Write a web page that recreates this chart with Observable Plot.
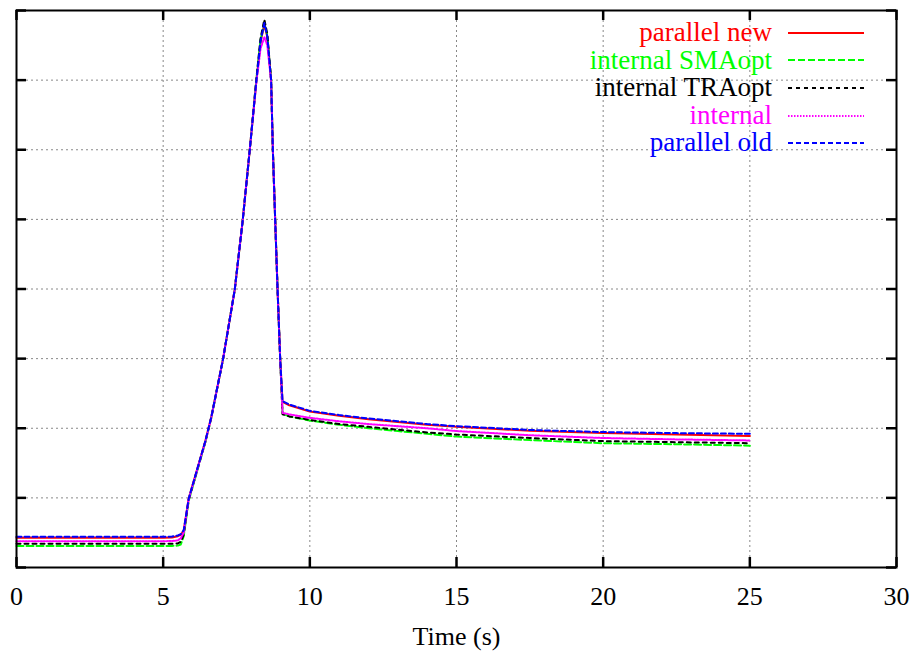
<!DOCTYPE html>
<html><head><meta charset="utf-8">
<script src="https://cdn.jsdelivr.net/npm/d3@7"></script>
<script src="https://cdn.jsdelivr.net/npm/@observablehq/plot@0.6"></script>
<style>
body{margin:0;background:#fff;}
#wrap{position:relative;width:915px;height:653px;}
#legend{position:absolute;left:560px;top:19px;font-family:"Liberation Serif","Times New Roman",serif;font-size:27px;}
.row{display:flex;align-items:center;height:27.6px;}
.lab{width:212px;text-align:right;line-height:27.6px;}
.row svg{margin-left:16px;}
</style></head><body><div id="wrap"></div>
<script>
// time (s)
const time = [0, 1, 2, 3, 4, 5, 5.3, 5.5, 5.6, 5.7, 5.87, 6.44, 6.64, 7.04, 7.44, 7.71, 7.95, 8.18, 8.32, 8.45, 8.55, 8.68, 8.74, 8.82, 8.90, 8.99, 9.07, 9.3, 10, 11, 12, 13, 14, 15, 17.5, 20, 22.5, 25];
const parallelNew = [0.427, 0.427, 0.427, 0.427, 0.427, 0.427, 0.432, 0.45, 0.47, 0.53, 0.99, 1.82, 2.16, 2.99, 3.99, 4.98, 5.99, 7.0, 7.55, 7.8, 7.62, 7.0, 5.99, 4.98, 3.99, 2.99, 2.38, 2.33, 2.24, 2.18, 2.13, 2.09, 2.05, 2.02, 1.965, 1.93, 1.91, 1.89];
const internalSMAopt = [0.31, 0.31, 0.31, 0.31, 0.31, 0.31, 0.31, 0.315, 0.33, 0.45, 0.96, 1.8, 2.15, 2.99, 3.99, 4.98, 5.99, 7.02, 7.58, 7.83, 7.64, 7.0, 5.99, 4.98, 3.99, 2.99, 2.21, 2.17, 2.11, 2.05, 2.0, 1.96, 1.92, 1.88, 1.83, 1.785, 1.77, 1.75];
const internalTRAopt = [0.34, 0.34, 0.34, 0.34, 0.34, 0.34, 0.34, 0.345, 0.37, 0.47, 0.97, 1.81, 2.15, 2.99, 3.99, 4.98, 5.99, 7.03, 7.6, 7.87, 7.66, 7.0, 5.99, 4.98, 3.99, 2.99, 2.2, 2.17, 2.12, 2.06, 2.02, 1.98, 1.94, 1.91, 1.86, 1.815, 1.8, 1.785];
const internal = [0.378, 0.378, 0.378, 0.378, 0.378, 0.378, 0.38, 0.39, 0.42, 0.5, 0.98, 1.81, 2.15, 2.99, 3.99, 4.98, 5.99, 6.98, 7.45, 7.62, 7.5, 6.98, 5.99, 4.98, 3.99, 2.99, 2.22, 2.2, 2.15, 2.1, 2.06, 2.03, 2.0, 1.96, 1.9, 1.86, 1.84, 1.825];
const parallelOld = [0.44, 0.44, 0.44, 0.44, 0.44, 0.44, 0.444, 0.46, 0.48, 0.535, 0.99, 1.82, 2.16, 2.99, 3.99, 4.98, 5.99, 7.0, 7.56, 7.82, 7.63, 7.0, 5.99, 4.98, 3.99, 2.99, 2.39, 2.34, 2.25, 2.19, 2.14, 2.1, 2.06, 2.03, 1.975, 1.945, 1.93, 1.92];

const seriesNames = ["parallel new", "internal SMAopt", "internal TRAopt", "internal", "parallel old"];
const seriesValues = [parallelNew, internalSMAopt, internalTRAopt, internal, parallelOld];
const seriesColors = ["#ff0000", "#00ff00", "#000000", "#ff00ff", "#0000ff"];
const seriesDash = [null, "7,3", "4,4", "1.5,1.5", "5,3"];
const xTicks = [0, 5, 10, 15, 20, 25, 30];
const yTicks = [0, 1, 2, 3, 4, 5, 6, 7, 8];
const xDomain = [0, 30], yDomain = [0, 8];
const xLabel = "Time (s)";

const font = '"Liberation Serif", "Times New Roman", serif';
const W = 915, H = 653, mL = 16, mR = 19, mT = 10, mB = 86, tickPx = 10;
const innerW = W - mL - mR, innerH = H - mT - mB;
// tick length converted into data units of each scale
const tx = tickPx * (xDomain[1] - xDomain[0]) / innerW;
const ty = tickPx * (yDomain[1] - yDomain[0]) / innerH;

const lines = seriesNames.map((name, s) =>
  Plot.line(time.map((t, i) => ({t, v: seriesValues[s][i]})), {
    x: "t", y: "v", stroke: seriesColors[s], strokeWidth: 2,
    strokeDasharray: seriesDash[s] ?? undefined
  })
);

const tickStyle = {stroke: "#000", strokeWidth: 2.5, strokeOpacity: 1};
const chart = Plot.plot({
  width: W, height: H,
  marginLeft: mL, marginRight: mR, marginTop: mT, marginBottom: mB,
  style: {fontFamily: font, fontSize: "26px", background: "#fff", color: "#000"},
  x: {domain: xDomain},
  y: {domain: yDomain},
  marks: [
    Plot.gridX(xTicks, {stroke: "#888", strokeOpacity: 1, strokeDasharray: "2,3"}),
    Plot.gridY(yTicks, {stroke: "#888", strokeOpacity: 1, strokeDasharray: "2,3"}),
    ...lines,
    Plot.axisX(xTicks, {anchor: "bottom", tickSize: 0, tickPadding: 19.5, fontSize: 26, fontFamily: font, label: null}),
    Plot.axisY(yTicks, {anchor: "left", tickSize: 0, tickFormat: () => "", label: null}),
    // inward tick marks on all four sides
    Plot.ruleX(xTicks, {x: d => d, y1: yDomain[0], y2: yDomain[0] + ty, ...tickStyle}),
    Plot.ruleX(xTicks, {x: d => d, y1: yDomain[1] - ty, y2: yDomain[1], ...tickStyle}),
    Plot.ruleY(yTicks, {y: d => d, x1: xDomain[0], x2: xDomain[0] + tx, ...tickStyle}),
    Plot.ruleY(yTicks, {y: d => d, x1: xDomain[1] - tx, x2: xDomain[1], ...tickStyle}),
    Plot.frame({stroke: "#000", strokeWidth: 2}),
    Plot.text([xLabel], {frameAnchor: "bottom", dy: 68.7, lineAnchor: "middle", textAnchor: "middle", fontSize: 26, fontFamily: font, fill: "#000"})
  ]
});

const wrap = document.getElementById("wrap");
wrap.appendChild(chart);

const legend = document.createElement("div");
legend.id = "legend";
seriesNames.forEach((name, s) => {
  const row = document.createElement("div");
  row.className = "row";
  const lab = document.createElement("div");
  lab.className = "lab";
  lab.textContent = name;
  lab.style.color = seriesColors[s];
  row.appendChild(lab);
  const svg = d3.create("svg").attr("width", 76).attr("height", 6);
  svg.append("line").attr("x1", 0).attr("x2", 76).attr("y1", 3).attr("y2", 3)
    .attr("stroke", seriesColors[s]).attr("stroke-width", 2)
    .attr("stroke-dasharray", seriesDash[s]);
  row.appendChild(svg.node());
  legend.appendChild(row);
});
wrap.appendChild(legend);
</script>
</body></html>
